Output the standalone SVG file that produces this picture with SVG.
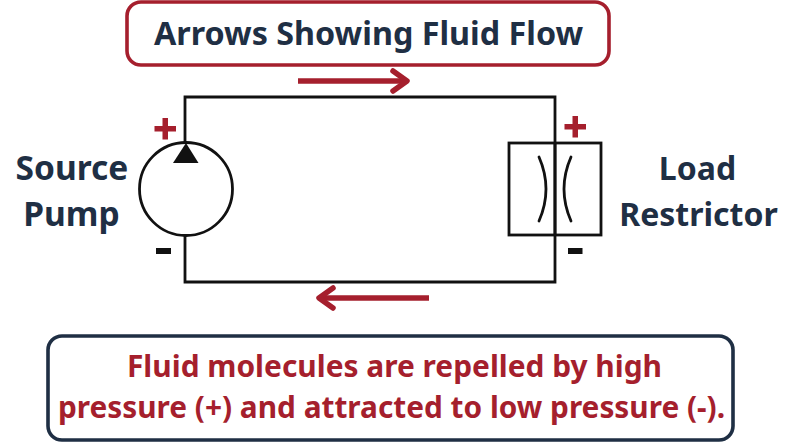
<svg xmlns="http://www.w3.org/2000/svg" width="800" height="448" viewBox="0 0 800 448">
<style>
.t{font-family:"Noto Sans","Open Sans",sans-serif;font-weight:700;text-anchor:middle}
.navy{fill:#1f2f44}
.red{fill:#a51f2d}
.wire{fill:none;stroke:#111;stroke-width:2.8}
.flow{fill:none;stroke:#a51f2d;stroke-width:5.500;stroke-linejoin:round}
.box{fill:#fff;stroke-width:3.600}
</style>
<rect width="800" height="448" fill="#fff"/>
<g id="connectors">
<path class="wire" d="M185 143V97H555V282H185V236"/>
</g>
<g id="flow-arrows">
<path class="flow" d="M298 81H406"/>
<path class="flow" stroke-linecap="round" d="M393 71L407 81L393 91"/>
<path class="flow" d="M429 298H320"/>
<path class="flow" stroke-linecap="round" d="M333 288L319 298L333 308"/>
</g>
<g id="title">
<rect class="box" x="127" y="2" width="482" height="63" rx="14" stroke="#a51f2d"/>
<text class="t navy" x="368.500" y="44.500" font-size="32.300">Arrows Showing Fluid Flow</text>
</g>
<g id="pump">
<circle class="wire" cx="186" cy="189" r="46.500"/>
<path d="M186 143L198.500 163H173Z" fill="#111"/>
<path class="red" d="M162.500 118h5.500v8h8v5.500h-8v8h-5.500v-8h-8v-5.500h8z"/>
<rect x="156" y="248" width="15" height="6" fill="#111"/>
<text class="t navy" x="72" y="180" font-size="33.500">Source</text>
<text class="t navy" x="71.500" y="226" font-size="33.500">Pump</text>
</g>
<g id="load">
<rect class="wire" x="509" y="143" width="92" height="92"/>
<path class="wire" d="M555 143V235"/>
<path class="wire" stroke-linecap="round" d="M539 157Q553 189 539 221M571 157Q557 189 571 221"/>
<path class="red" d="M572.500 116h5.500v8h8v5.500h-8v8h-5.500v-8h-8v-5.500h8z"/>
<rect x="568" y="248" width="14.500" height="6" fill="#111"/>
<text class="t navy" x="697.500" y="180" font-size="32">Load</text>
<text class="t navy" x="698.500" y="226" font-size="32">Restrictor</text>
</g>
<g id="note">
<rect class="box" x="48" y="336" width="685" height="104" rx="14" stroke="#1f2f44"/>
<text class="t red" x="394.500" y="377" font-size="29.900">Fluid molecules are repelled by high</text>
<text class="t red" x="391.500" y="418" font-size="29.800">pressure (+) and attracted to low pressure (-).</text>
</g>
</svg>
